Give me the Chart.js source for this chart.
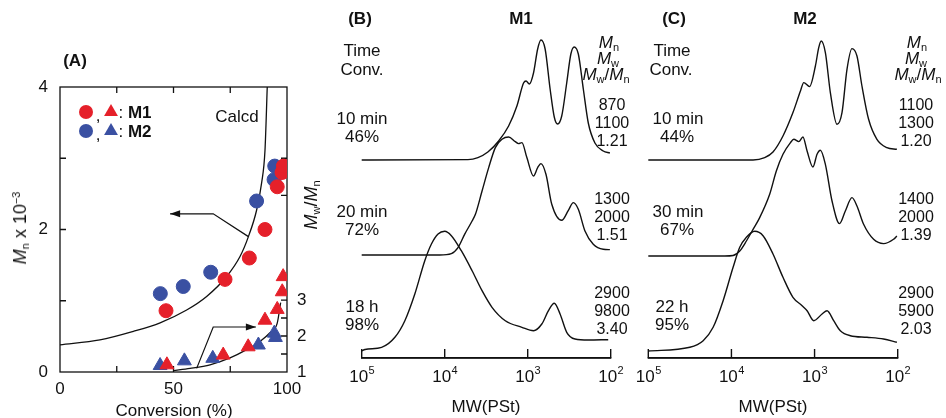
<!DOCTYPE html>
<html>
<head>
<meta charset="utf-8">
<script src="https://cdn.jsdelivr.net/npm/chart.js@4.4.1/dist/chart.umd.min.js"></script>
<style>
body { margin: 0; width: 946px; height: 418px; overflow: hidden; position: relative; background: #fff; font-family: "Liberation Sans", Arial, sans-serif; color: #111; }
canvas { position: absolute; top: 0; }
.t { position: absolute; white-space: nowrap; font-size: 16px; line-height: 1; transform: translate(-50%, -50%); }
.b { font-weight: bold; }
.rot { transform: translate(-50%, -50%) rotate(-90deg); }
sub { font-size: 11px; vertical-align: -3px; line-height: 0; }
sup { font-size: 11px; vertical-align: 6px; line-height: 0; }
</style>
</head>
<body>
<canvas id="chartA" style="left:0px" width="330" height="418"></canvas>
<canvas id="chartB" style="left:330px" width="300" height="418"></canvas>
<canvas id="chartC" style="left:630px" width="316" height="418"></canvas>
<div id="labels"></div>
<script>
// --- DATOS PANEL A (conversión %, Mn x 10^-3, Mw/Mn) ---
const redCircX  = [46.7, 72.7, 83.4, 90.3, 95.7, 97.8, 98.4];
const redCircY  = [0.86, 1.30, 1.60, 2.00, 2.60, 2.80, 2.89];
const blueCircX = [44.2, 54.3, 66.4, 86.6, 94.3, 94.6];
const blueCircY = [1.10, 1.20, 1.40, 2.40, 2.70, 2.89];
const redTriX   = [47.1, 71.9, 82.9, 90.3, 95.7, 97.9, 98.3];
const redTriY   = [1.20, 1.47, 1.70, 2.44, 2.74, 3.23, 3.65];
const blueTriX  = [44.1, 54.8, 67.3, 87.4, 94.4, 94.9];
const blueTriY  = [1.18, 1.31, 1.38, 1.75, 2.08, 1.96];
const calcdX    = [0, 17.6, 32.3, 44.1, 55.8, 64.6, 73.4, 79.3, 83.0, 86.6, 88.8, 90.3, 91.3];
const calcdY    = [0.38, 0.45, 0.57, 0.69, 0.87, 1.06, 1.34, 1.62, 1.90, 2.27, 2.65, 3.11, 4.0];
const pdiCalcX  = [49.9, 57.3, 66.1, 74.9, 82.2, 88.1, 92.5, 95.7, 97.2];
const pdiCalcY  = [1.04, 1.10, 1.20, 1.39, 1.62, 1.85, 2.09, 2.36, 2.93];
const arrowUpX  = [83.0, 67.5, 48.5];
const arrowUpY  = [1.90, 2.22, 2.22];
const arrowLoX  = [60.2, 67.5, 86.3];
const arrowLoY  = [1.10, 2.25, 2.25];

// --- DATOS PANEL B (M1): log10 MW e intensidad ---
const logB1 = [5.00, 3.72, 3.60, 3.48, 3.35, 3.23, 3.13, 3.05, 3.02, 2.98, 2.93, 2.88, 2.84, 2.79, 2.73, 2.68, 2.64, 2.59, 2.53, 2.48, 2.44, 2.39, 2.33, 2.27, 2.19, 2.09, 2.01];
const intB1 = [0, 0.4, 2.4, 8, 19, 34, 54, 77, 79, 76, 87, 111, 120, 111, 71, 43, 36, 44, 77, 106, 113, 106, 71, 37, 17, 9, 7];
const logB2 = [5.00, 4.06, 3.92, 3.84, 3.76, 3.67, 3.63, 3.55, 3.47, 3.39, 3.31, 3.23, 3.15, 3.11, 3.07, 3.01, 2.93, 2.88, 2.84, 2.78, 2.71, 2.59, 2.51, 2.45, 2.39, 2.31, 2.21, 2.09, 2.01];
const intB2 = [0, 0, 1.4, 7.4, 20.7, 34, 40.7, 64, 87.4, 107.4, 115.7, 118, 113.4, 111.4, 112.4, 97.4, 79, 87.4, 91.4, 80.7, 50.7, 34.7, 44.7, 52.4, 45.7, 24, 10.7, 5.7, 5.4];
const logB3 = [5.00, 4.96, 4.76, 4.60, 4.48, 4.36, 4.24, 4.16, 4.08, 4.00, 3.92, 3.80, 3.67, 3.55, 3.43, 3.27, 3.07, 2.93, 2.83, 2.75, 2.68, 2.61, 2.53, 2.43, 2.27, 2.03];
const intB3 = [0, 1.5, 3.7, 13.7, 30.3, 57, 90.3, 107, 117, 119.7, 115.3, 100.3, 80.3, 60.3, 43.7, 30.3, 23.7, 20.3, 27, 40.3, 47.7, 37, 18.7, 12, 11, 11.3];

// --- DATOS PANEL C (M2) ---
const logC1 = [5.00, 3.74, 3.60, 3.50, 3.38, 3.26, 3.17, 3.13, 3.06, 2.99, 2.95, 2.92, 2.87, 2.81, 2.73, 2.67, 2.61, 2.55, 2.49, 2.43, 2.35, 2.25, 2.13, 2.01];
const intC1 = [0, 0, 2.4, 8, 24, 47.4, 69, 77.4, 73.4, 94, 112.4, 119, 107.4, 67.4, 35.7, 47.4, 90.7, 111.4, 104, 74, 40.7, 20.7, 12.4, 10.7];
const logC2 = [5.00, 4.08, 3.98, 3.90, 3.82, 3.74, 3.66, 3.54, 3.46, 3.38, 3.29, 3.25, 3.19, 3.14, 3.09, 3.02, 2.97, 2.93, 2.87, 2.79, 2.70, 2.63, 2.55, 2.49, 2.41, 2.29, 2.17, 2.05, 2.01];
const intC2 = [0, 0, 0.5, 5, 15, 26.7, 38.4, 61.7, 85, 101.7, 113.4, 116.7, 114.4, 119, 105, 89, 101.7, 105.7, 91.7, 55, 32.4, 45, 58.4, 50, 31.7, 16.7, 12.4, 16.7, 20];
const logC3 = [5.00, 4.50, 4.34, 4.22, 4.10, 3.98, 3.90, 3.82, 3.72, 3.62, 3.50, 3.38, 3.26, 3.15, 3.09, 3.01, 2.91, 2.85, 2.77, 2.69, 2.57, 2.37, 2.17, 2.01];
const intC3 = [0, 3.7, 10.3, 23.7, 50.3, 83.7, 103.7, 113.7, 119.7, 115.3, 97, 73.7, 53.7, 45.3, 40.3, 30.3, 37, 40.3, 30.3, 20.3, 15.3, 13.7, 12, 8.7];

// desplazamiento vertical de cada curva sobre el eje
const offsetsB = [198, 103, 7];
const offsetsC = [198, 102, 7];
const mwTicks = [5, 4, 3, 2];

const RED = '#e5202a';
const BLUE = '#3a50a2';
const FONT = '"Liberation Sans", Arial, sans-serif';
const AXIS_Y = 358;

Chart.defaults.font.family = FONT;
Chart.defaults.color = '#111';

function pts(xs, ys) {
    return xs.map((x, i) => ({ x: x, y: ys[i] }));
}

// --- PLUGIN: caja, marcas interiores, flechas y leyenda del panel A ---
const panelA = {
    id: 'panelA',
    beforeDatasetsDraw(chart) {
        const ctx = chart.ctx, a = chart.chartArea;
        const x = chart.scales.x, y = chart.scales.y, y2 = chart.scales.y2;
        ctx.save();
        ctx.strokeStyle = '#111';
        ctx.lineWidth = 1.3;
        ctx.strokeRect(a.left, a.top, a.right - a.left, a.bottom - a.top);
        ctx.beginPath();
        [25, 50, 75].forEach(v => {
            const px = x.getPixelForValue(v);
            ctx.moveTo(px, a.bottom); ctx.lineTo(px, a.bottom - 6);
            ctx.moveTo(px, a.top); ctx.lineTo(px, a.top + 6);
        });
        [1, 2, 3].forEach(v => {
            const py = y.getPixelForValue(v);
            ctx.moveTo(a.left, py); ctx.lineTo(a.left + 6, py);
        });
        [1.5, 2, 2.5, 3].forEach(v => {
            const py = y2.getPixelForValue(v);
            ctx.moveTo(a.right, py); ctx.lineTo(a.right - 6, py);
        });
        [2.48, 3].forEach(v => {
            const py = y.getPixelForValue(v);
            ctx.moveTo(a.right, py); ctx.lineTo(a.right - 6, py);
        });
        ctx.stroke();
        ctx.restore();
    },
    afterDatasetsDraw(chart) {
        const ctx = chart.ctx;
        // puntas de flecha
        chart.data.datasets.forEach((ds, i) => {
            if (!ds.arrow) return;
            const els = chart.getDatasetMeta(i).data;
            const p1 = els[els.length - 2], p2 = els[els.length - 1];
            const ang = Math.atan2(p2.y - p1.y, p2.x - p1.x);
            ctx.save();
            ctx.fillStyle = '#111';
            ctx.translate(p2.x, p2.y);
            ctx.rotate(ang);
            ctx.beginPath();
            ctx.moveTo(0, 0); ctx.lineTo(-10, -3.5); ctx.lineTo(-10, 3.5);
            ctx.closePath();
            ctx.fill();
            ctx.restore();
        });
        // marcadores de la leyenda
        const mk = [[86, 112, 'circle', RED], [111, 112, 'triangle', RED], [86, 131, 'circle', BLUE], [111, 131, 'triangle', BLUE]];
        mk.forEach(m => {
            ctx.save();
            ctx.fillStyle = m[3];
            ctx.strokeStyle = m[3];
            ctx.lineWidth = 0.5;
            Chart.helpers.drawPoint(ctx, { pointStyle: m[2], radius: m[2] === 'circle' ? 7 : 8, rotation: 0 }, m[0], m[1]);
            ctx.restore();
        });
    }
};

new Chart(document.getElementById('chartA'), {
    type: 'scatter',
    data: {
        datasets: [
            { data: pts(calcdX, calcdY), yAxisID: 'y', showLine: true, borderColor: '#111', borderWidth: 1.3, pointRadius: 0, cubicInterpolationMode: 'monotone', order: 5 },
            { data: pts(pdiCalcX, pdiCalcY), yAxisID: 'y2', showLine: true, borderColor: '#111', borderWidth: 1.3, pointRadius: 0, cubicInterpolationMode: 'monotone', order: 5 },
            { data: pts(arrowUpX, arrowUpY), yAxisID: 'y', showLine: true, borderColor: '#111', borderWidth: 1.2, pointRadius: 0, arrow: true, order: 5 },
            { data: pts(arrowLoX, arrowLoY), yAxisID: 'y2', showLine: true, borderColor: '#111', borderWidth: 1.2, pointRadius: 0, arrow: true, order: 5 },
            { data: pts(blueTriX, blueTriY), yAxisID: 'y2', pointStyle: 'triangle', pointRadius: 8, backgroundColor: BLUE, borderColor: BLUE, order: 2 },
            { data: pts(redTriX, redTriY), yAxisID: 'y2', pointStyle: 'triangle', pointRadius: 8, backgroundColor: RED, borderColor: RED, order: 1 },
            { data: pts(blueCircX, blueCircY), yAxisID: 'y', pointStyle: 'circle', pointRadius: 7, backgroundColor: BLUE, borderColor: BLUE, order: 2 },
            { data: pts(redCircX, redCircY), yAxisID: 'y', pointStyle: 'circle', pointRadius: 7, backgroundColor: RED, borderColor: RED, order: 1 }
        ]
    },
    options: {
        responsive: false,
        animation: false,
        layout: { padding: { left: 0, right: 0, top: 87, bottom: 0 } },
        plugins: { legend: { display: false }, tooltip: { enabled: false } },
        scales: {
            x: {
                min: 0, max: 100,
                afterFit(s) { s.height = 46; },
                grid: { display: false, drawTicks: false },
                border: { display: false },
                ticks: { stepSize: 50, padding: 7, font: { size: 17 }, color: '#111' }
            },
            y: {
                min: 0, max: 4,
                afterFit(s) { s.width = 60; },
                grid: { display: false, drawTicks: false },
                border: { display: false },
                ticks: { stepSize: 2, padding: 12, font: { size: 17 }, color: '#111' }
            },
            y2: {
                position: 'right',
                min: 1, max: 8.92,
                afterFit(s) { s.width = 43; },
                afterBuildTicks(s) { s.ticks = [1, 2, 3].map(v => ({ value: v })); },
                grid: { display: false, drawTicks: false },
                border: { display: false },
                ticks: { padding: 10, font: { size: 17 }, color: '#111' }
            }
        }
    },
    plugins: [panelA]
});

// --- PANELES B y C: cromatogramas GPC ---
// eje inferior con marcas hacia arriba y etiquetas 10^n
const mwAxis = {
    id: 'mwAxis',
    afterDraw(chart) {
        const ctx = chart.ctx;
        const sx = chart.scales.x;
        const yb = Math.round(chart.chartArea.bottom);
        const x5 = sx.getPixelForValue(5), x2 = sx.getPixelForValue(2);
        ctx.save();
        ctx.fillStyle = '#111';
        ctx.fillRect(x5 - 0.7, yb - 0.7, x2 - x5 + 1.4, 1.4);
        mwTicks.forEach(v => {
            const px = sx.getPixelForValue(v);
            ctx.fillRect(px - 0.7, yb - 9, 1.4, 9);
        });
        mwTicks.forEach(v => {
            const px = sx.getPixelForValue(v);
            ctx.font = '17px ' + FONT;
            const w1 = ctx.measureText('10').width;
            ctx.font = '11px ' + FONT;
            const w2 = ctx.measureText(String(v)).width;
            const x0 = px - (w1 + w2) / 2;
            ctx.font = '17px ' + FONT;
            ctx.fillText('10', x0, yb + 24);
            ctx.font = '11px ' + FONT;
            ctx.fillText(String(v), x0 + w1 + 0.5, yb + 16);
        });
        ctx.restore();
    }
};

function gpcChart(id, padL, padR, logs, ints, offsets) {
    new Chart(document.getElementById(id), {
        type: 'scatter',
        data: {
            datasets: logs.map((lg, i) => ({
                data: lg.map((v, j) => ({ x: v, y: ints[i][j] + offsets[i] })),
                showLine: true,
                borderColor: '#111',
                borderWidth: 1.4,
                pointRadius: 0,
                cubicInterpolationMode: 'monotone',
                clip: false
            }))
        },
        options: {
            responsive: false,
            animation: false,
            layout: { padding: { left: padL, right: padR, top: 0, bottom: 0 } },
            plugins: { legend: { display: false }, tooltip: { enabled: false } },
            scales: {
                x: {
                    min: 2, max: 5, reverse: true,
                    afterFit(s) { s.height = 418 - AXIS_Y; },
                    afterBuildTicks(s) { s.ticks = mwTicks.map(v => ({ value: v })); },
                    grid: { display: false, drawTicks: false },
                    border: { display: true, color: '#111', width: 1.4 },
                    ticks: { display: false }
                },
                y: { display: false, min: 0, max: AXIS_Y }
            }
        },
        plugins: [mwAxis]
    });
}

gpcChart('chartB', 31.7, 19.3, [logB1, logB2, logB3], [intB1, intB2, intB3], offsetsB);
gpcChart('chartC', 18.3, 48.3, [logC1, logC2, logC3], [intC1, intC2, intC3], offsetsC);

// --- TEXTOS ---
const M = s => '<i>M</i><sub>' + s + '</sub>';
function label(html, x, y, cls, size) {
    const d = document.createElement('div');
    d.className = 't ' + (cls || '');
    d.style.left = x + 'px';
    d.style.top = y + 'px';
    if (size) d.style.fontSize = size + 'px';
    d.innerHTML = html;
    document.getElementById('labels').appendChild(d);
}

// panel A
label('(A)', 75, 60, 'b', 17);
label(', ', 98, 115, '', 17);
label(', ', 98, 134, '', 17);
label(': <b>M1</b>', 135, 112, '', 17);
label(': <b>M2</b>', 135, 131, '', 17);
label('Calcd', 237, 116, '', 17);
label(M('n') + ' x 10<sup>\u22123</sup>', 20, 228, 'rot', 18);
label(M('w') + '/' + M('n'), 311, 205, 'rot', 18);
label('Conversion (%)', 174, 410, '', 17);

// panel B
label('(B)', 360, 18, 'b', 17);
label('M1', 521, 18, 'b', 17);
label('Time', 362, 50, '', 17);
label('Conv.', 362, 69, '', 17);
label(M('n'), 609, 42, '', 17);
label(M('w'), 608, 58, '', 17);
label(M('w') + '/' + M('n'), 606, 74, '', 17);
label('10 min', 362, 118, '', 17);
label('46%', 362, 136, '', 17);
label('870', 612, 105);
label('1100', 612, 123);
label('1.21', 612, 141);
label('20 min', 362, 211, '', 17);
label('72%', 362, 229, '', 17);
label('1300', 612, 199);
label('2000', 612, 217);
label('1.51', 612, 235);
label('18 h', 362, 306, '', 17);
label('98%', 362, 324, '', 17);
label('2900', 612, 293);
label('9800', 612, 311);
label('3.40', 612, 329);
label('MW(PSt)', 486, 406, '', 17);

// panel C
label('(C)', 674, 18, 'b', 17);
label('M2', 805, 18, 'b', 17);
label('Time', 672, 50, '', 17);
label('Conv.', 671, 69, '', 17);
label(M('n'), 917, 42, '', 17);
label(M('w'), 916, 58, '', 17);
label(M('w') + '/' + M('n'), 918, 74, '', 17);
label('10 min', 678, 118, '', 17);
label('44%', 677, 136, '', 17);
label('1100', 916, 105);
label('1300', 916, 123);
label('1.20', 916, 141);
label('30 min', 678, 211, '', 17);
label('67%', 677, 229, '', 17);
label('1400', 916, 199);
label('2000', 916, 217);
label('1.39', 916, 235);
label('22 h', 672, 306, '', 17);
label('95%', 672, 324, '', 17);
label('2900', 916, 293);
label('5900', 916, 311);
label('2.03', 916, 329);
label('MW(PSt)', 773, 406, '', 17);
</script>
</body>
</html>
